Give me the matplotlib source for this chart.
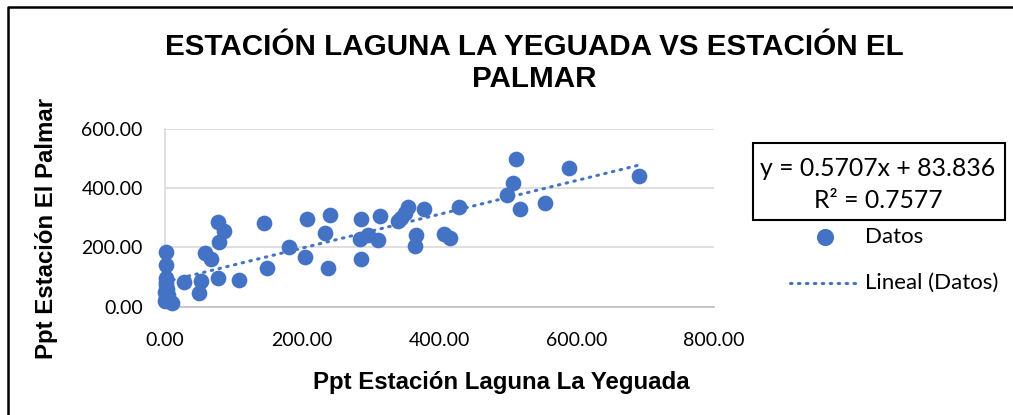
import matplotlib
matplotlib.use("Agg")
import matplotlib.pyplot as plt
from matplotlib.lines import Line2D
from matplotlib.patches import Rectangle

# Ppt Estación Laguna La Yeguada (x) vs Ppt Estación El Palmar (y)
ppt_yeguada = [1, 1, 2, 1, 0, 2, 5, 10, 3, 4, 0, 2,
               28, 49, 53, 58, 67, 77, 86, 78, 77, 108,
               144, 148, 180, 204, 207, 233, 237, 241,
               285, 284, 285, 296, 310, 314, 339, 344, 349, 354,
               366, 364, 378, 407, 415, 429,
               499, 507, 511, 517, 554, 588, 691]
ppt_palmar = [186, 141, 96, 73, 51, 34, 28, 11, 60, 40, 20, 82,
              85, 47, 88, 181, 162, 286, 254, 218, 96, 90,
              282, 130, 203, 169, 297, 249, 130, 311,
              297, 228, 160, 243, 226, 307, 288, 300, 316, 336,
              243, 204, 330, 246, 232, 337,
              376, 416, 500, 331, 350, 467, 441]

# lineal trend given by the chart
pendiente = 0.5707
intercepto = 83.836
r2 = 0.7577

x_ticks = [0, 200, 400, 600, 800]
y_ticks = [0, 200, 400, 600]

AZUL = "#4472C4"
TICK_FONT = ["Lato", "DejaVu Sans"]
BOLD_FONT = ["Liberation Sans", "DejaVu Sans"]

fig = plt.figure(figsize=(10.13, 4.15), dpi=100)
ax = fig.add_axes([165 / 1013, 1 - 306.7 / 415, 549 / 1013, 177.7 / 415])

ax.scatter(ppt_yeguada, ppt_palmar, s=128, color=AZUL, zorder=3, linewidths=0, clip_on=False)

x0, x1 = min(ppt_yeguada), max(ppt_yeguada)
ax.plot([x0, x1], [pendiente * x0 + intercepto, pendiente * x1 + intercepto],
        color=AZUL, lw=2.2, linestyle=(0, (0.5, 2.1)), dash_capstyle="round", zorder=2)

ax.set_xlim(0, 800)
ax.set_ylim(0, 600)
ax.set_xticks(x_ticks)
ax.set_yticks(y_ticks)
ax.set_xticklabels([f"{v:.2f}" for v in x_ticks], family=TICK_FONT, fontsize=14)
ax.set_yticklabels([f"{v:.2f}" for v in y_ticks], family=TICK_FONT, fontsize=14)
ax.tick_params(axis="y", length=0, pad=16)
ax.tick_params(axis="x", length=0, pad=18)
ax.yaxis.grid(True, color="#D9D9D9", lw=1.2)
ax.set_axisbelow(True)
for side in ["top", "right"]:
    ax.spines[side].set_visible(False)
ax.spines["left"].set_color("#D9D9D9")
ax.spines["bottom"].set_color("#BFBFBF")
ax.spines["left"].set_linewidth(1.2)
ax.spines["bottom"].set_linewidth(1.2)

# title and axis labels
fig.text(534 / 1013, 1 - 63 / 415, "ESTACIÓN LAGUNA LA YEGUADA VS ESTACIÓN EL\nPALMAR",
         ha="center", va="center", family=BOLD_FONT, fontweight="bold", fontsize=21.3,
         linespacing=1.22)
fig.text(501 / 1013, 1 - 382 / 415, "Ppt Estación Laguna La Yeguada", ha="center", va="center",
         family=BOLD_FONT, fontweight="bold", fontsize=17.3)
fig.text(47 / 1013, 1 - 228 / 415, "Ppt Estación El Palmar", ha="center", va="center",
         rotation=90, family=BOLD_FONT, fontweight="bold", fontsize=17.3)

# equation box
fig.patches.append(Rectangle((752.5 / 1013, 1 - 220 / 415), 252 / 1013, 77 / 415,
                             transform=fig.transFigure, fill=False, ec="black", lw=1.5))
fig.text(878 / 1013, 1 - 168 / 415, f"y = {pendiente}x + {intercepto}", ha="center", va="center",
         family=TICK_FONT, fontsize=17.8)
fig.text(878 / 1013, 1 - 200 / 415, f"R² = {r2}", ha="center", va="center",
         family=TICK_FONT, fontsize=17.8)

# legend
fig.add_artist(Line2D([825 / 1013], [1 - 237 / 415], marker="o", markersize=11.3,
                      color=AZUL, lw=0, transform=fig.transFigure))
fig.text(865 / 1013, 1 - 237 / 415, "Datos", ha="left", va="center", family=TICK_FONT, fontsize=16)
fig.add_artist(Line2D([790 / 1013, 858 / 1013], [1 - 283 / 415, 1 - 283 / 415], color=AZUL,
                      lw=2.2, linestyle=(0, (0.5, 2.1)), dash_capstyle="round",
                      transform=fig.transFigure))
fig.text(865 / 1013, 1 - 283 / 415, "Lineal (Datos)", ha="left", va="center", family=TICK_FONT,
         fontsize=16)

# chart border (top and left visible)
fig.add_artist(Line2D([7.5 / 1013, 7.5 / 1013, 1.0], [0.0, 1 - 7.5 / 415, 1 - 7.5 / 415],
                      color="black", lw=1.8, transform=fig.transFigure))

fig.savefig("out.png", dpi=100)
